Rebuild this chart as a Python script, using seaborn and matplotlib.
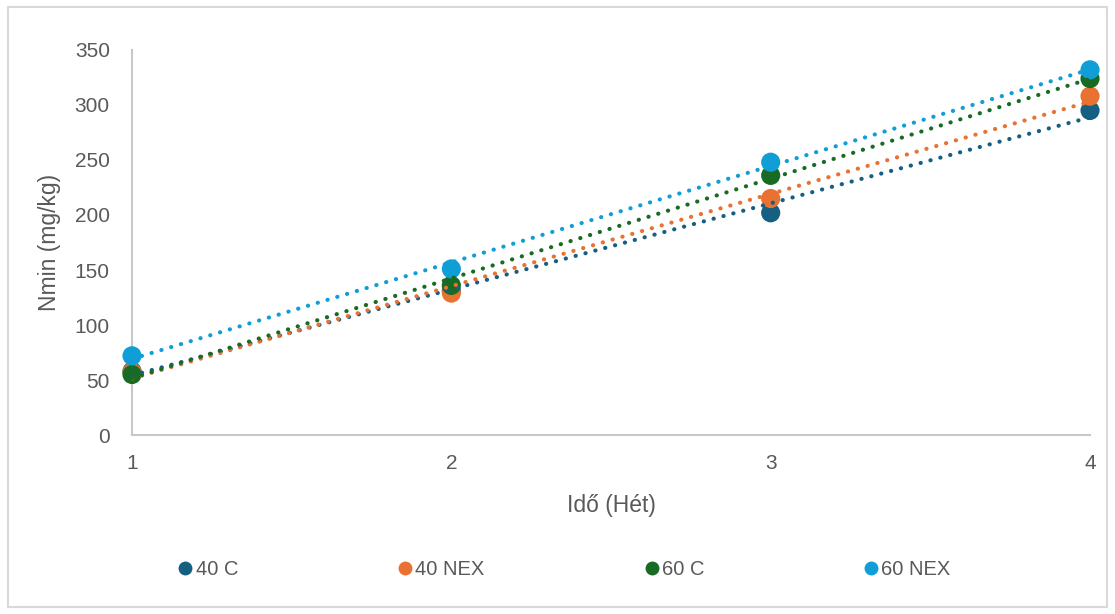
import pandas as pd
import matplotlib.pyplot as plt
import seaborn as sns
from matplotlib.lines import Line2D
from matplotlib.patches import Rectangle

# data
weeks = [1, 2, 3, 4]
s_40c = [58, 131, 202, 295]
s_40nex = [57, 129, 215, 308]
s_60c = [55, 136, 236, 324]
s_60nex = [72, 151, 248, 332]

series = {'40 C': s_40c, '40 NEX': s_40nex, '60 C': s_60c, '60 NEX': s_60nex}
colors = {'40 C': '#156082', '40 NEX': '#E97132', '60 C': '#196B24', '60 NEX': '#0F9ED5'}

rows = []
for name, vals in series.items():
    for w, v in zip(weeks, vals):
        rows.append({'Week': w, 'Nmin': v, 'Series': name})
df = pd.DataFrame(rows)

sns.set_theme(style="white")
plt.rcParams['font.family'] = ['Liberation Sans', 'DejaVu Sans']

fig = plt.figure(figsize=(11.15, 6.14), dpi=100)
ax = fig.add_axes([0.1184, 0.2915, 0.8592, 0.6271])

grey = '#595959'

# points
sns.scatterplot(data=df, x='Week', y='Nmin', hue='Series', palette=colors,
                s=190, edgecolor='none', legend=False, ax=ax, zorder=3, clip_on=False)

# linear trendlines (dotted)
for name in series:
    sub = df[df['Series'] == name]
    sns.regplot(data=sub, x='Week', y='Nmin', scatter=False, ci=None, ax=ax,
                color=colors[name],
                line_kws={'linestyle': (0, (0.05, 2.4)), 'linewidth': 3.0,
                          'dash_capstyle': 'round', 'zorder': 4})

ax.set_xlim(1, 4)
ax.set_ylim(0, 350)
ax.set_xticks(weeks)
ax.set_yticks(range(0, 351, 50))
ax.tick_params(axis='both', length=0, labelsize=15, colors=grey)
ax.tick_params(axis='x', pad=14)
ax.tick_params(axis='y', pad=16)

for side in ['top', 'right']:
    ax.spines[side].set_visible(False)
for side in ['left', 'bottom']:
    ax.spines[side].set_color('#c8c8c8')
    ax.spines[side].set_linewidth(1.5)

ax.set_xlabel('Idő (Hét)', fontsize=16.5, color=grey, labelpad=15)
ax.set_ylabel('Nmin (mg/kg)', fontsize=16.5, color=grey, labelpad=10)

handles = [Line2D([], [], marker='o', linestyle='none', markersize=10,
                  markerfacecolor=colors[n], markeredgecolor='none', label=n)
           for n in series]
leg = fig.legend(handles=handles, loc='center', bbox_to_anchor=(0.505, 0.073),
                 ncol=4, frameon=False, fontsize=14.5, handletextpad=0.0,
                 columnspacing=7.8, handlelength=1.0)
for t in leg.get_texts():
    t.set_color(grey)

# chart border
fig.patches.append(Rectangle((0.007, 0.012), 0.986, 0.976, transform=fig.transFigure,
                             fill=False, edgecolor='#d9d9d9', linewidth=1.5))

plt.savefig('out.png', dpi=100)
